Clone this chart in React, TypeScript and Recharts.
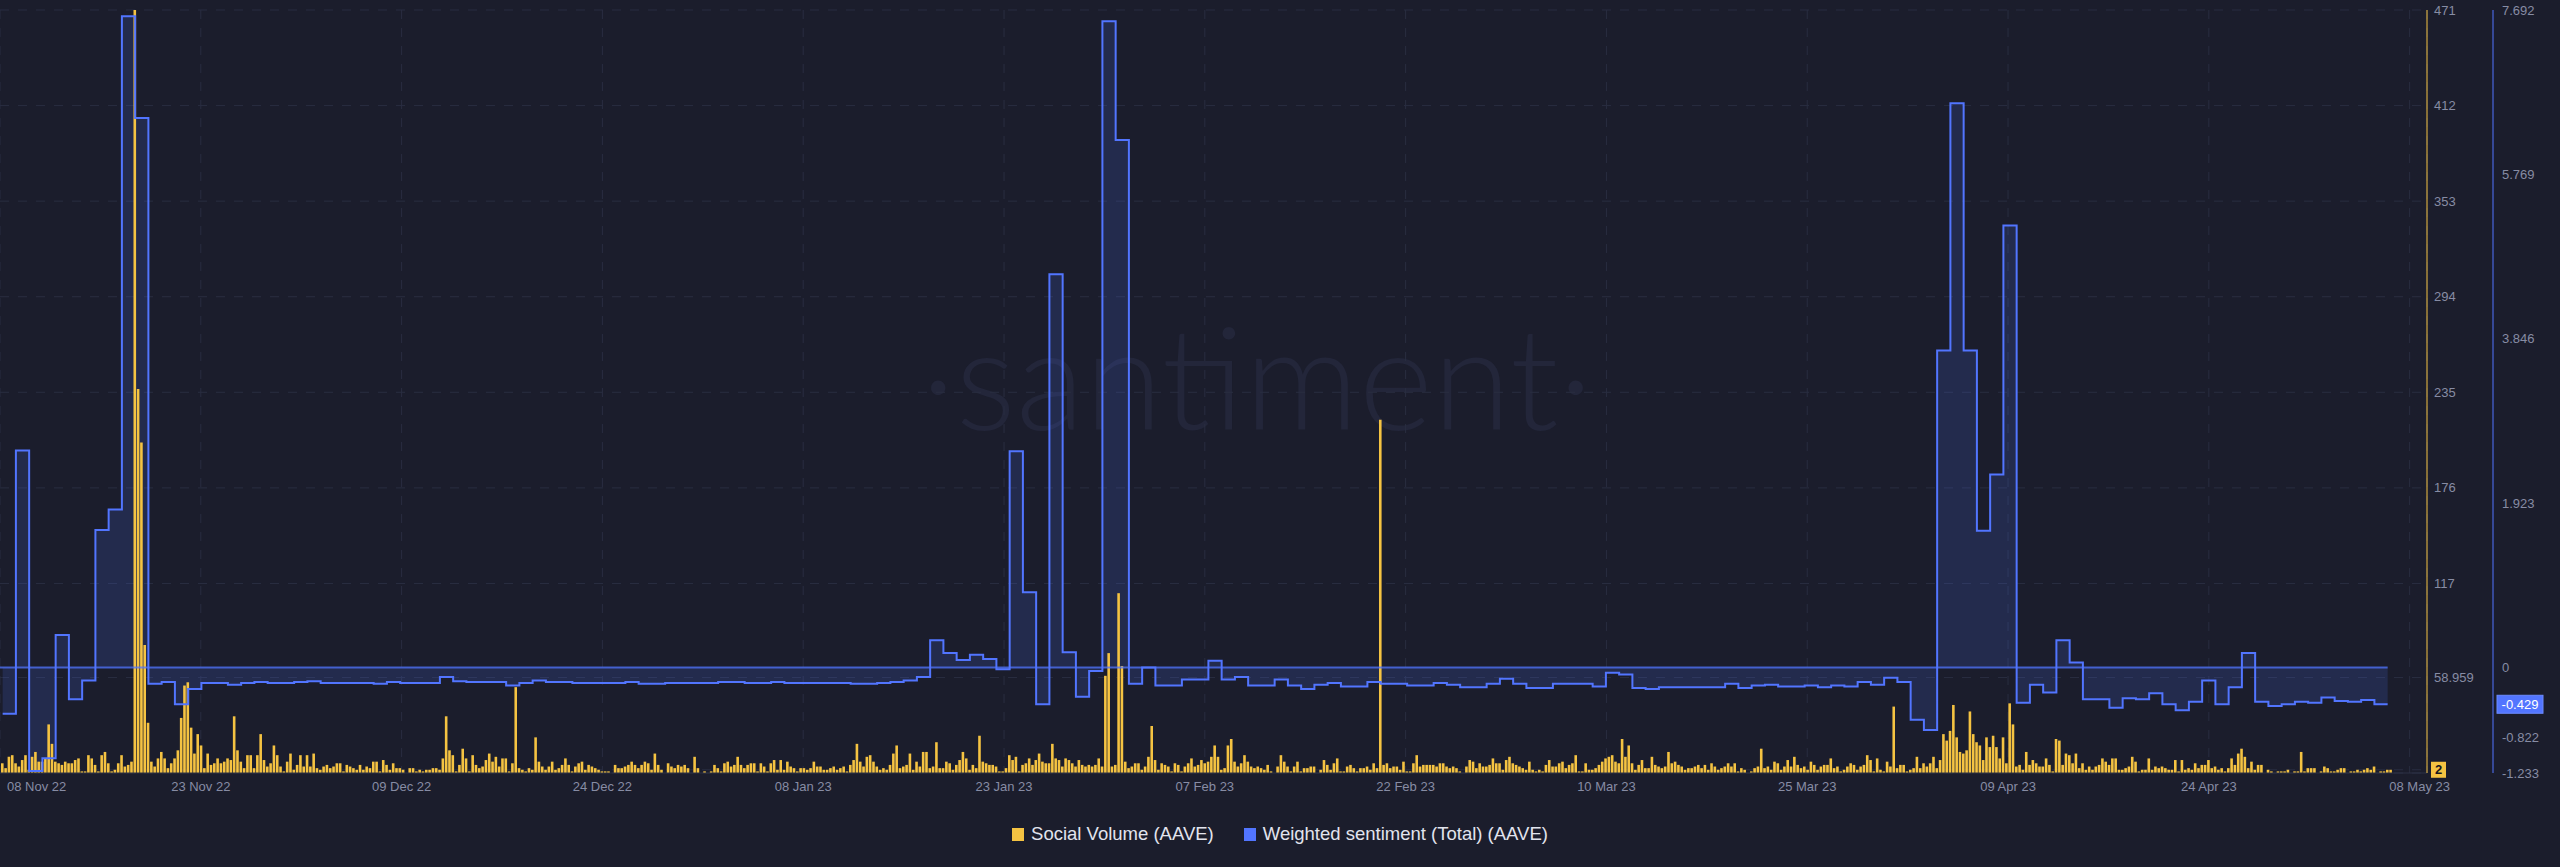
import {
  ComposedChart,
  Bar,
  Area,
  Line,
  XAxis,
  YAxis,
  CartesianGrid,
  ReferenceLine,
  Legend,
} from 'recharts';

// x axis labels (evenly spaced ticks, Santiment style)
const tickLabels = [
  '08 Nov 22', '23 Nov 22', '09 Dec 22', '24 Dec 22', '08 Jan 23', '23 Jan 23', '07 Feb 23',
  '22 Feb 23', '10 Mar 23', '25 Mar 23', '09 Apr 23', '24 Apr 23', '08 May 23',
];
const volumeTicks = [58.959, 117, 176, 235, 294, 353, 412, 471];
const sentimentTicks = [-1.233, -0.822, 0, 1.923, 3.846, 5.769, 7.692];

// social volume, 4 bars per day, starting 08 Nov 22
const volNov = [
  6, 3, 10, 11, 6, 4, 8, 11, 2, 10, 13, 7, 7, 9, 30, 18,
  7, 6, 5, 7, 6, 6, 8, 9, 1, 1, 11, 9, 5, 1, 11, 13,
  6, 1, 2, 6, 11, 4, 5, 7, 471, 237, 204, 79, 31, 7, 4, 9,
  13, 9, 3, 6, 9, 14, 34, 54, 56, 28, 12, 24, 17, 3, 12, 5,
  6, 9, 6, 7, 9, 8, 35, 14, 7, 3, 11, 11, 3, 11, 24, 8,
  4, 6, 17, 11, 4, 1, 7, 12, 2, 5, 11, 4,
];
const volDec = [
  11, 4, 12, 3, 2, 4, 5, 3, 4, 6, 6, 1, 5, 4, 3, 2,
  5, 2, 4, 3, 7, 7, 1, 8, 5, 2, 6, 3, 3, 2, 0, 3,
  3, 1, 2, 1, 2, 2, 3, 3, 2, 9, 35, 14, 11, 1, 5, 15,
  9, 1, 11, 5, 3, 4, 8, 12, 7, 10, 4, 9, 9, 1, 6, 53,
  3, 2, 1, 3, 2, 22, 7, 4, 2, 4, 7, 2, 3, 5, 9, 5,
  1, 4, 6, 7, 2, 5, 4, 3, 2, 1, 1, 1, 0, 5, 3, 3,
  4, 5, 7, 5, 3, 5, 7, 6, 2, 12, 5, 2, 0, 6, 4, 3,
  5, 4, 5, 3, 0, 10, 3, 0, 1, 0, 1, 5,
];
const volJan = [
  3, 1, 6, 7, 4, 5, 10, 5, 3, 5, 6, 6, 1, 6, 4, 1,
  6, 8, 2, 8, 2, 7, 4, 3, 1, 3, 3, 2, 3, 7, 4, 4,
  2, 2, 3, 4, 2, 3, 4, 1, 5, 8, 18, 7, 4, 10, 11, 7,
  4, 2, 3, 2, 5, 12, 17, 3, 4, 5, 12, 2, 7, 4, 13, 13,
  3, 4, 19, 3, 3, 7, 6, 2, 5, 8, 13, 9, 2, 5, 3, 23,
  7, 6, 5, 5, 4, 1, 1, 3, 11, 8, 10, 1, 5, 6, 9, 5,
  8, 12, 7, 6, 6, 18, 9, 8, 4, 9, 8, 6, 4, 8, 5, 4,
  5, 4, 5, 9, 4, 60, 74, 4, 5, 111, 66, 7,
];
const volFeb = [
  3, 4, 6, 6, 2, 4, 10, 29, 8, 2, 6, 5, 4, 1, 6, 5,
  1, 4, 6, 9, 4, 5, 8, 6, 7, 10, 17, 10, 2, 3, 17, 21,
  7, 4, 6, 11, 7, 4, 3, 4, 3, 2, 5, 1, 0, 4, 11, 7,
  4, 1, 4, 7, 1, 3, 3, 4, 4, 0, 2, 8, 5, 2, 6, 9,
  1, 1, 4, 5, 3, 1, 3, 3, 4, 2, 6, 3, 218, 5, 6, 3,
  4, 4, 2, 7, 1, 1, 6, 11, 4, 5, 5, 5, 5, 4, 6, 6,
  4, 3, 4, 3, 1, 0, 4, 8, 7, 3, 6, 4, 4, 5, 9, 6,
];
const volMar = [
  6, 2, 8, 10, 6, 5, 4, 3, 2, 7, 2, 1, 2, 1, 5, 8,
  4, 4, 6, 7, 3, 5, 6, 11, 1, 1, 6, 2, 2, 3, 5, 7,
  9, 10, 11, 7, 6, 21, 10, 17, 6, 2, 5, 8, 3, 3, 10, 5,
  4, 3, 4, 13, 6, 7, 5, 4, 2, 3, 3, 4, 5, 3, 5, 2,
  6, 4, 2, 3, 4, 6, 4, 6, 1, 3, 2, 0, 1, 3, 4, 15,
  3, 4, 2, 7, 6, 2, 4, 8, 4, 10, 5, 3, 4, 2, 7, 5,
  2, 4, 5, 5, 9, 3, 4, 1, 2, 4, 6, 5, 2, 4, 5, 11,
  8, 1, 9, 2, 1, 7, 4, 41, 3, 5, 5, 1,
];
const volApr = [
  2, 3, 10, 3, 6, 4, 6, 10, 3, 8, 24, 20, 26, 42, 22, 13,
  12, 14, 38, 24, 19, 17, 8, 22, 16, 23, 16, 9, 22, 6, 43, 30,
  4, 5, 2, 13, 5, 8, 6, 4, 4, 9, 5, 1, 21, 20, 5, 12,
  11, 6, 12, 3, 6, 2, 4, 2, 4, 5, 9, 7, 5, 9, 9, 2,
  2, 3, 4, 10, 7, 1, 2, 2, 9, 2, 4, 3, 4, 3, 2, 2,
  8, 1, 8, 2, 3, 2, 6, 3, 5, 5, 8, 3, 4, 2, 3, 1,
  3, 9, 5, 12, 15, 10, 3, 7, 2, 5, 5, 0, 2, 1, 0, 1,
  1, 1, 2, 0, 1, 1, 13, 1,
];
const volMay = [
  3, 3, 3, 0, 1, 4, 3, 1, 1, 2, 3, 3, 0, 1, 1, 2,
  1, 2, 3, 2, 4, 0, 1, 1, 2, 2,
];

// weighted sentiment, one value per day
const sentNov = [
  -0.54, 2.54, -1.21, -1.06, 0.38, -0.37, -0.15, 1.61, 1.85, 7.62, 6.43, -0.19,
  -0.17, -0.43, -0.25, -0.18, -0.18, -0.2, -0.18, -0.17, -0.18, -0.18, -0.17,
];
const sentDec = [
  -0.16, -0.18, -0.18, -0.18, -0.18, -0.19, -0.17, -0.18, -0.18, -0.18, -0.11,
  -0.16, -0.17, -0.17, -0.17, -0.21, -0.18, -0.15, -0.17, -0.17, -0.18, -0.18,
  -0.18, -0.18, -0.17, -0.19, -0.19, -0.18, -0.18, -0.18, -0.18,
];
const sentJan = [
  -0.17, -0.17, -0.18, -0.18, -0.17, -0.18, -0.18, -0.18, -0.18, -0.18, -0.19,
  -0.19, -0.18, -0.17, -0.15, -0.11, 0.32, 0.17, 0.09, 0.15, 0.1, -0.02,
  2.53, 0.88, -0.43, 4.6, 0.18, -0.34, -0.04, 7.56, 6.17,
];
const sentFeb = [
  -0.19, 0.0, -0.21, -0.21, -0.14, -0.14, 0.08, -0.14, -0.11, -0.21, -0.21,
  -0.14, -0.21, -0.25, -0.2, -0.18, -0.22, -0.22, -0.17, -0.19, -0.19, -0.21,
  -0.21, -0.18, -0.2, -0.23, -0.23, -0.19,
];
const sentMar = [
  -0.13, -0.19, -0.24, -0.24, -0.19, -0.19, -0.19, -0.22, -0.06, -0.08, -0.24,
  -0.25, -0.23, -0.23, -0.23, -0.23, -0.23, -0.19, -0.24, -0.21, -0.2, -0.22,
  -0.22, -0.21, -0.23, -0.21, -0.22, -0.17, -0.2, -0.12, -0.17,
];
const sentApr = [
  -0.61, -0.73, 3.71, 6.6, 3.71, 1.6, 2.26, 5.17, -0.41, -0.2, -0.29, 0.32,
  0.06, -0.37, -0.37, -0.47, -0.36, -0.37, -0.3, -0.43, -0.5, -0.4, -0.15,
  -0.43, -0.23, 0.17, -0.4, -0.45, -0.43, -0.4,
];
const sentMay = [-0.41, -0.35, -0.39, -0.4, -0.38, -0.429];

const volume = [...volNov, ...volDec, ...volJan, ...volFeb, ...volMar, ...volApr, ...volMay];
const sentiment = [...sentNov, ...sentDec, ...sentJan, ...sentFeb, ...sentMar, ...sentApr, ...sentMay];
const lastVolume = volume[volume.length - 1];
const lastSentiment = sentiment[sentiment.length - 1];

const BARS_PER_DAY = 4;
const data = volume.map((v, i) => {
  const t = i / BARS_PER_DAY;
  const day = Math.floor(t);
  let s: number | undefined = sentiment[day];
  // close the last daily step
  if (s === undefined && t === sentiment.length) s = sentiment[day - 1];
  return { t, volume: v, sentiment: s };
});

const DOMAIN: [number, number] = [-0.2, 182.97];
const TICK_STEP = 15.155;
const tickPos = tickLabels.map((_, i) => DOMAIN[0] + i * TICK_STEP);

const BG = '#1b1d2c';
const YELLOW = '#f5c342';
const BLUE = '#5275ff';
const TEXT = '#878ca4';
const GRID = '#292d40';
const FONT = '"Liberation Sans", Arial, sans-serif';

function DateTick({ x, y, payload }: any) {
  const i = tickPos.findIndex((p) => Math.abs(p - payload.value) < 1e-6);
  const first = i === 0;
  const last = i === tickLabels.length - 1;
  return (
    <text
      x={first ? x + 7 : last ? x + 10 : x}
      y={y}
      dy="0.71em"
      textAnchor={first ? 'start' : 'middle'}
      fill={TEXT}
      fontSize={13}
      fontFamily={FONT}
    >
      {tickLabels[i]}
    </text>
  );
}

function VolumeTick({ x, y, payload }: any) {
  if (payload.value === lastVolume) {
    return (
      <g>
        <rect x={x - 3} y={y - 8} width={15} height={16} fill={YELLOW} />
        <text x={x + 4.5} y={y} dy="0.35em" textAnchor="middle" fill="#16161f" fontSize={13} fontWeight={700} fontFamily={FONT}>
          {lastVolume}
        </text>
      </g>
    );
  }
  return (
    <text x={x} y={y} dy="0.35em" textAnchor="start" fill={TEXT} fontSize={13} fontFamily={FONT}>
      {payload.value}
    </text>
  );
}

function SentimentTick({ x, y, payload }: any) {
  if (payload.value === lastSentiment) {
    return (
      <g>
        <rect x={x - 5} y={y - 9} width={46} height={18} fill={BLUE} stroke="#6d8bff" strokeWidth={1} />
        <text x={x + 18} y={y} dy="0.35em" textAnchor="middle" fill="#ffffff" fontSize={13} fontFamily={FONT}>
          {lastSentiment.toFixed(3)}
        </text>
      </g>
    );
  }
  return (
    <text x={x} y={y} dy="0.35em" textAnchor="start" fill={TEXT} fontSize={13} fontFamily={FONT}>
      {payload.value}
    </text>
  );
}

const legendItems = [
  { name: 'Social Volume (AAVE)', color: YELLOW },
  { name: 'Weighted sentiment (Total) (AAVE)', color: BLUE },
];

function ChartLegend() {
  return (
    <div
      style={{
        height: 64,
        width: 2560,
        display: 'flex',
        justifyContent: 'center',
        alignItems: 'flex-start',
        paddingTop: 22,
        boxSizing: 'border-box',
        fontFamily: FONT,
        fontSize: 18.5,
        color: '#e2e4ee',
      }}
    >
      {legendItems.map((item, i) => (
        <div key={item.name} style={{ display: 'flex', alignItems: 'center', marginLeft: i ? 30 : 0, lineHeight: '18px' }}>
          <span style={{ width: 12, height: 13, background: item.color, marginRight: 7, display: 'inline-block' }} />
          {item.name}
        </div>
      ))}
    </div>
  );
}

export default function App() {
  return (
    <div style={{ position: 'absolute', left: 0, top: 0, width: 2560, height: 867, background: BG, overflow: 'hidden' }}>
      <div
        style={{
          position: 'absolute',
          left: 1257,
          top: 375,
          transform: 'translate(-50%, -50%)',
          fontFamily: 'Lato, "Open Sans", sans-serif',
          fontWeight: 300,
          fontSize: 142,
          color: '#23263a',
          whiteSpace: 'nowrap',
        }}
      >
        ·santiment·
      </div>
      <div style={{ position: 'absolute', left: 0, top: 0 }}>
        <ComposedChart width={2560} height={867} data={data} margin={{ top: 10, right: 0, bottom: 0, left: 0 }}>
          <CartesianGrid yAxisId="volume" stroke={GRID} strokeDasharray="9 9" />
          <XAxis
            dataKey="t"
            type="number"
            domain={DOMAIN}
            allowDataOverflow
            ticks={tickPos}
            interval={0}
            height={30}
            tickSize={0}
            tickMargin={9}
            tickLine={false}
            axisLine={{ stroke: '#2c3045' }}
            tick={<DateTick />}
          />
          <YAxis
            yAxisId="volume"
            orientation="right"
            domain={[0, 471]}
            allowDataOverflow
            ticks={[lastVolume, ...volumeTicks]}
            interval={0}
            width={66}
            tickSize={0}
            tickMargin={7}
            tickLine={false}
            axisLine={{ stroke: YELLOW }}
            tick={<VolumeTick />}
          />
          <YAxis
            yAxisId="weighted"
            orientation="right"
            domain={[-1.233, 7.692]}
            allowDataOverflow
            ticks={[...sentimentTicks, lastSentiment]}
            interval={0}
            width={67}
            tickSize={0}
            tickMargin={9}
            tickLine={false}
            axisLine={{ stroke: BLUE }}
            tick={<SentimentTick />}
          />
          <Legend verticalAlign="bottom" height={64} content={<ChartLegend />} />
          <Area
            yAxisId="weighted"
            type="stepAfter"
            dataKey="sentiment"
            stroke="none"
            fill={BLUE}
            fillOpacity={0.16}
            isAnimationActive={false}
            legendType="none"
          />
          <Bar yAxisId="volume" dataKey="volume" fill={YELLOW} barSize={2.6} isAnimationActive={false} />
          <ReferenceLine
            yAxisId="weighted"
            segment={[{ x: DOMAIN[0], y: 0 }, { x: sentiment.length, y: 0 }]}
            stroke={BLUE}
            strokeOpacity={0.75}
            strokeWidth={2}
          />
          <Line
            yAxisId="weighted"
            type="stepAfter"
            dataKey="sentiment"
            stroke={BLUE}
            strokeWidth={2}
            dot={false}
            isAnimationActive={false}
            legendType="none"
          />
        </ComposedChart>
      </div>
    </div>
  );
}
